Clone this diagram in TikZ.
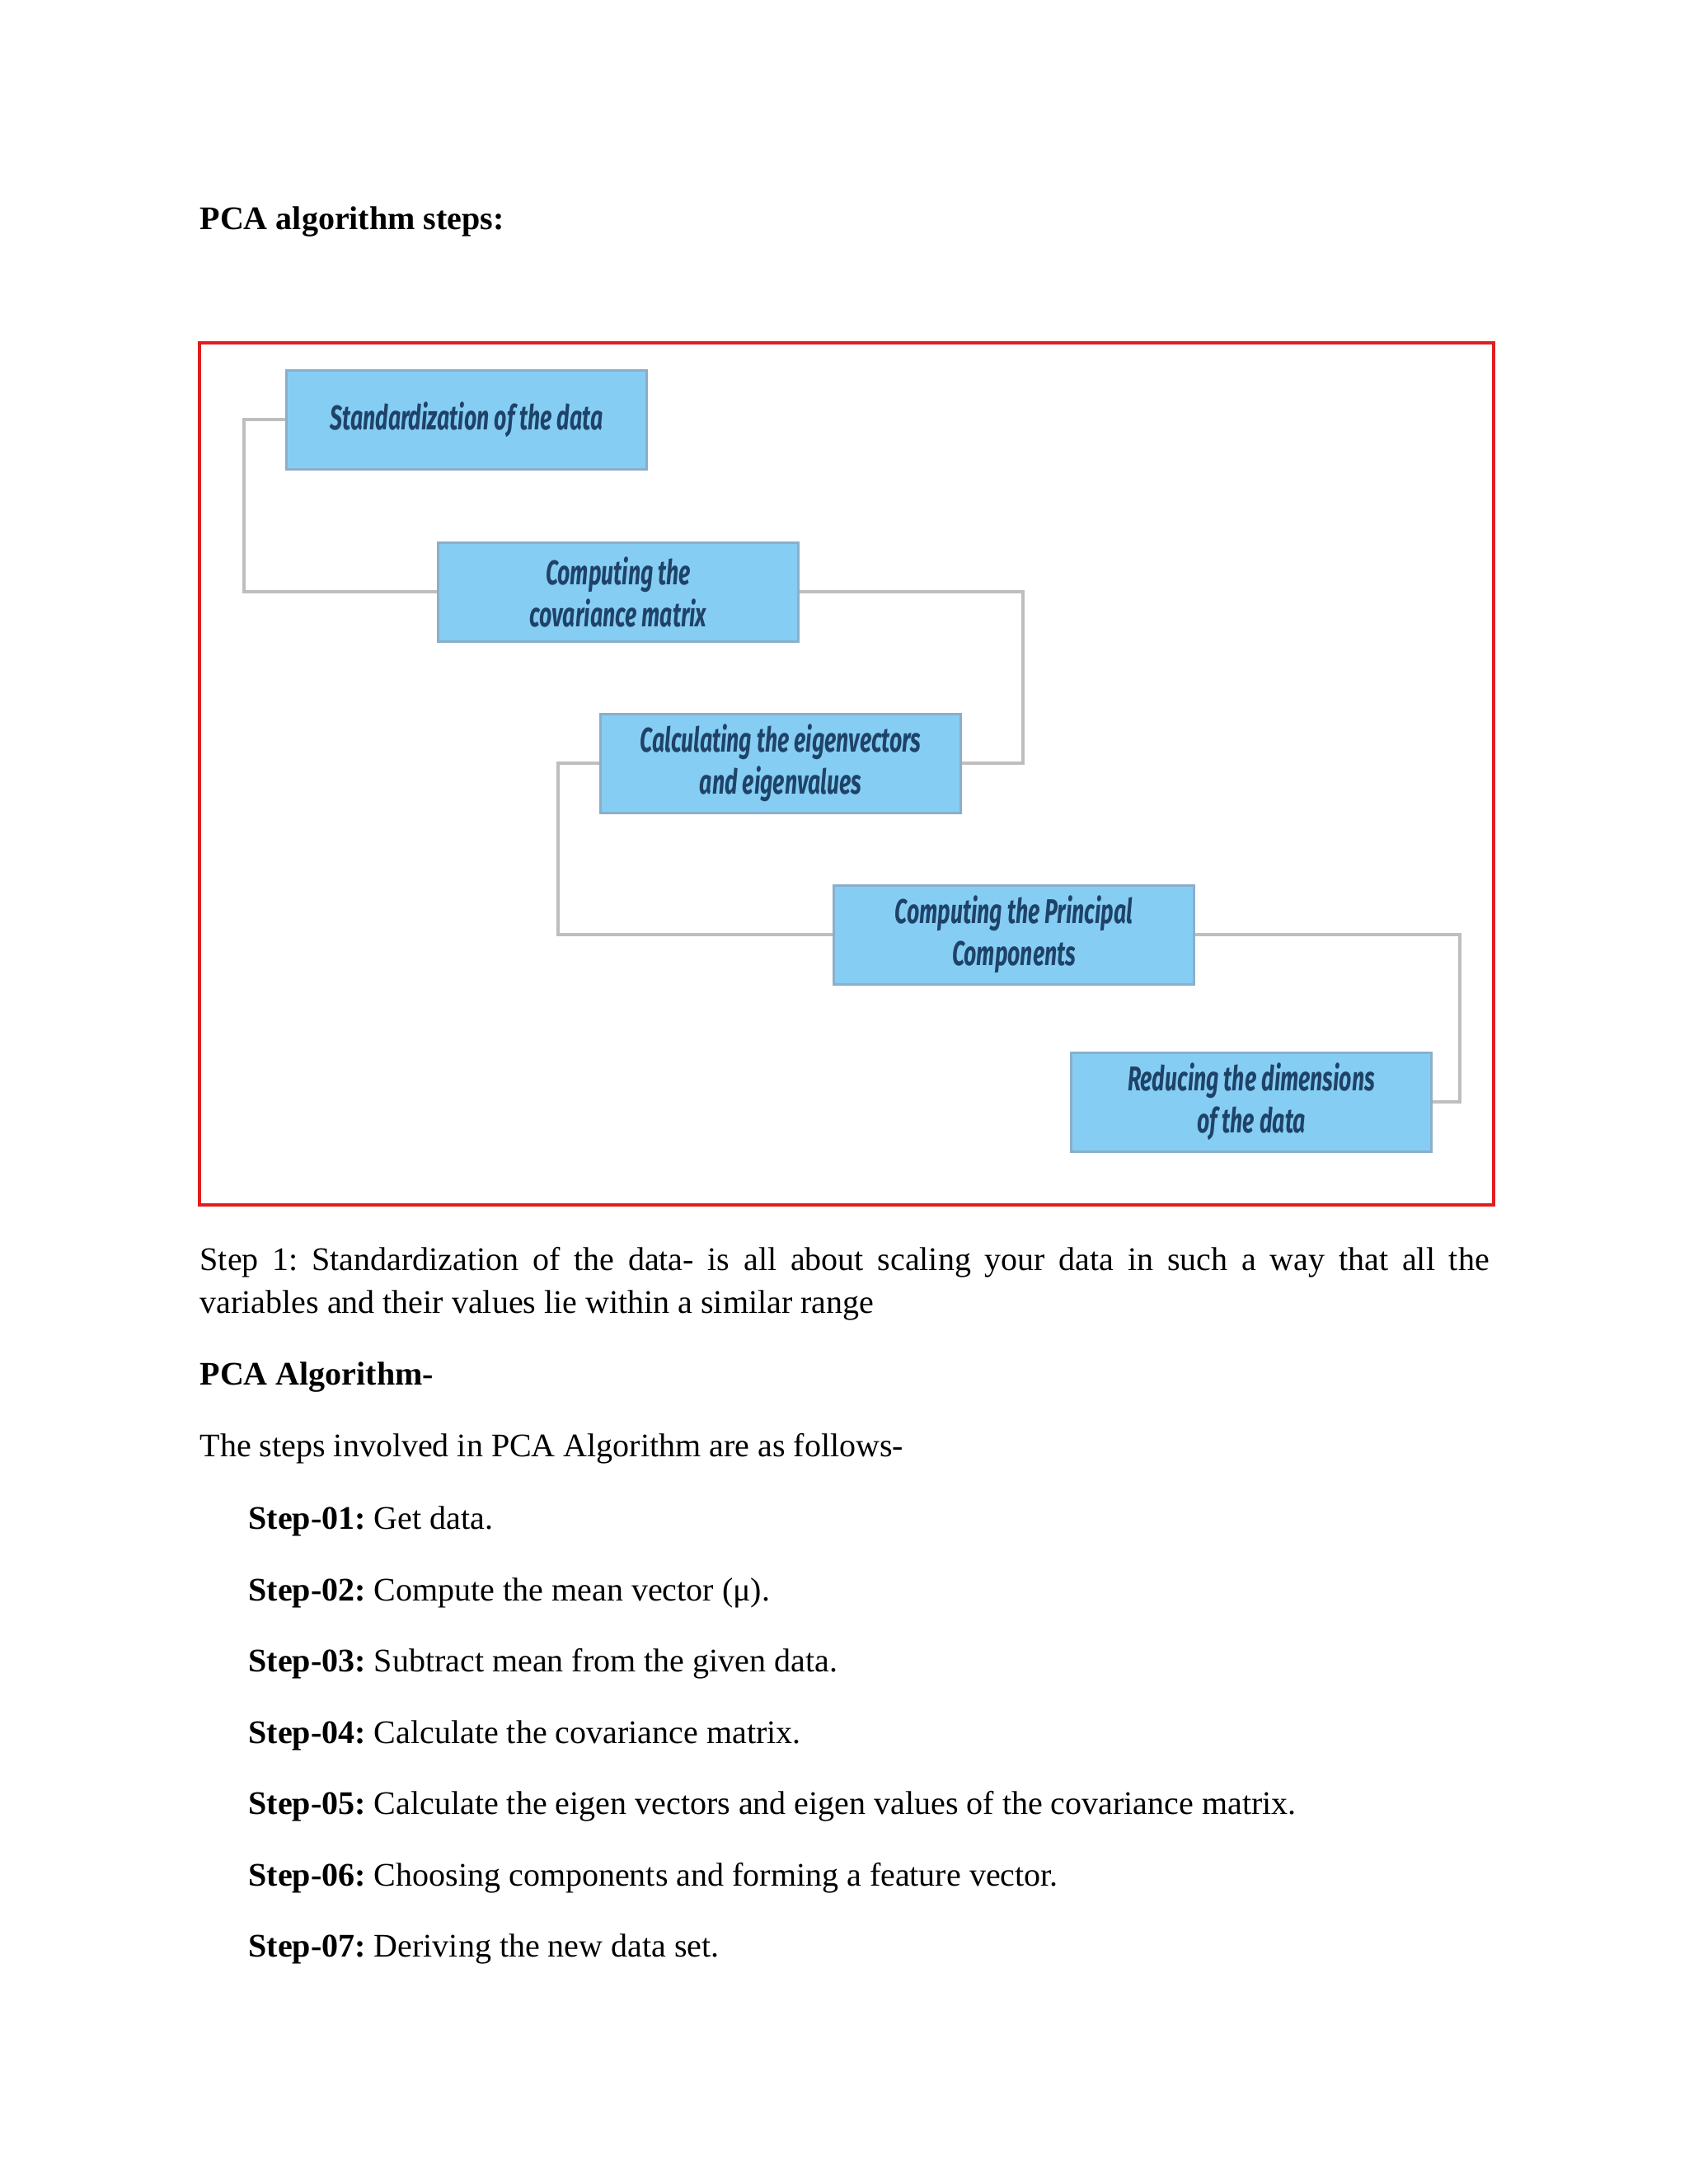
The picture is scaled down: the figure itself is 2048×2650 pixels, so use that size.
\documentclass[tikz,border=0pt]{standalone}
\usepackage{fontspec}
\setmainfont{Liberation Serif}
\newfontfamily\boxfont[FakeStretch=0.64]{Fira Sans}
\definecolor{boxfill}{HTML}{86CDF4}
\definecolor{boxedge}{HTML}{8AAFCB}
\definecolor{boxtext}{HTML}{1F4368}
\definecolor{linkgray}{HTML}{BEBEBE}
\definecolor{framered}{HTML}{E01E1E}
\tikzset{
  stepbox/.style={rectangle, fill=boxfill, draw=boxedge, line width=0.9pt,
    minimum width=131.1pt, minimum height=36pt, inner sep=0pt, align=center,
    text=boxtext, font=\boxfont\bfseries\itshape\fontsize{12.5}{15.3}\selectfont},
  link/.style={draw=linkgray, line width=1.3pt},
  bodytext/.style={anchor=base west, inner sep=0pt, font=\fontsize{12}{14}\selectfont\frenchspacing},
}
\begin{document}
\begin{tikzpicture}[x=0.29995pt, y=-0.29995pt]
\useasboundingbox (0,0) rectangle (2048,2650);
\fill[white] (0,0) rectangle (2048,2650);
\node[bodytext] (title) at (242,278) {\textbf{PCA algorithm steps:}};
\draw[framered, line width=1pt] (242,416) rectangle (1812,1462);
\node[stepbox] (b1) at (566,509) {Standardization of the data};
\node[stepbox] (b2) at (750,718) {Computing the\\covariance matrix};
\node[stepbox] (b3) at (947,926) {Calculating the eigenvectors\\and eigenvalues};
\node[stepbox] (b4) at (1230,1134) {Computing the Principal\\Components};
\node[stepbox] (b5) at (1518,1337) {Reducing the dimensions\\of the data};
\draw[link] (b1.west) -- ++(-50,0) |- (b2.west);
\draw[link] (b2.east) -- ++(271,0) |- (b3.east);
\draw[link] (b3.west) -- ++(-50,0) |- (b4.west);
\draw[link] (b4.east) -- ++(321,0) |- (b5.east);
\node[bodytext] (p1) at (242,1541) {\makebox[469.1pt][s]{Step 1: Standardization of the data- is all about scaling your data in such a way that all the}};
\node[bodytext] (p2) at (242,1593) {variables and their values lie within a similar range};
\node[bodytext] (h2) at (242,1680) {\textbf{PCA Algorithm-}};
\node[bodytext] (p3) at (242,1767) {The steps involved in PCA Algorithm are as follows-};
\node[bodytext] (s1) at (301,1855.6) {\textbf{Step-01:} Get data.};
\node[bodytext] (s2) at (301,1942.1) {\textbf{Step-02:} Compute the mean vector (μ).};
\node[bodytext] (s3) at (301,2028.6) {\textbf{Step-03:} Subtract mean from the given data.};
\node[bodytext] (s4) at (301,2115.1) {\textbf{Step-04:} Calculate the covariance matrix.};
\node[bodytext] (s5) at (301,2201.6) {\textbf{Step-05:} Calculate the eigen vectors and eigen values of the covariance matrix.};
\node[bodytext] (s6) at (301,2288.1) {\textbf{Step-06:} Choosing components and forming a feature vector.};
\node[bodytext] (s7) at (301,2374.6) {\textbf{Step-07:} Deriving the new data set.};
\end{tikzpicture}
\end{document}
